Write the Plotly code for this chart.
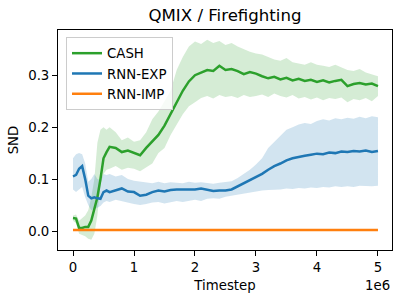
import plotly.graph_objects as go

# timesteps in units of 1e6
timesteps = [0, 0.05, 0.1, 0.15, 0.2, 0.25, 0.3, 0.35, 0.4, 0.45, 0.5, 0.55, 0.6,
             0.7, 0.8, 0.9, 1.0, 1.1, 1.2, 1.3, 1.4, 1.5, 1.6, 1.7, 1.8, 1.9, 2.0,
             2.1, 2.2, 2.3, 2.4, 2.5, 2.6, 2.7, 2.8, 2.9, 3.0, 3.1, 3.2, 3.3, 3.4,
             3.5, 3.6, 3.7, 3.8, 3.9, 4.0, 4.1, 4.2, 4.3, 4.4, 4.5, 4.6, 4.7, 4.8,
             4.9, 5.0]

cash_mean = [0.025, 0.024, 0.006, 0.006, 0.008, 0.008, 0.02, 0.04, 0.065, 0.1, 0.14, 0.152, 0.162,
             0.16, 0.152, 0.155, 0.15, 0.146, 0.16, 0.172, 0.185, 0.203, 0.225, 0.25, 0.27, 0.288, 0.3,
             0.305, 0.31, 0.308, 0.318, 0.31, 0.312, 0.308, 0.302, 0.306, 0.303, 0.298, 0.294, 0.297, 0.292,
             0.295, 0.29, 0.293, 0.289, 0.291, 0.287, 0.29, 0.286, 0.289, 0.291, 0.279, 0.283, 0.285, 0.282,
             0.284, 0.279]
cash_upper = [0.03, 0.032, 0.02, 0.025, 0.03, 0.04, 0.065, 0.1, 0.17, 0.195, 0.2, 0.195, 0.2,
              0.19, 0.175, 0.18, 0.172, 0.175, 0.19, 0.215, 0.23, 0.25, 0.27, 0.31, 0.335, 0.355, 0.365,
              0.36, 0.368, 0.362, 0.366, 0.358, 0.362, 0.355, 0.35, 0.345, 0.342, 0.34, 0.335, 0.33, 0.328,
              0.333, 0.325, 0.322, 0.32, 0.325, 0.32, 0.318, 0.316, 0.32, 0.315, 0.31, 0.308, 0.312, 0.305,
              0.302, 0.298]
cash_lower = [0.02, 0.015, -0.005, -0.008, -0.01, -0.015, -0.017, -0.005, 0.03, 0.09, 0.11, 0.118, 0.12,
              0.125, 0.118, 0.122, 0.12, 0.115, 0.122, 0.13, 0.15, 0.16, 0.185, 0.205, 0.225, 0.24, 0.248,
              0.256, 0.26, 0.255, 0.262, 0.258, 0.26, 0.256, 0.262, 0.258, 0.26, 0.263, 0.258, 0.265, 0.26,
              0.257, 0.262, 0.255, 0.258, 0.253, 0.257, 0.252, 0.256, 0.254, 0.257, 0.248, 0.254, 0.252, 0.256,
              0.25, 0.26]

exp_mean = [0.105, 0.108, 0.12, 0.125, 0.1, 0.068, 0.063, 0.065, 0.063, 0.062, 0.075, 0.078, 0.075,
            0.078, 0.082, 0.076, 0.075, 0.068, 0.07, 0.075, 0.078, 0.076, 0.079, 0.08, 0.08, 0.081, 0.08,
            0.082, 0.079, 0.077, 0.078, 0.078, 0.08, 0.086, 0.092, 0.098, 0.104, 0.11, 0.118, 0.125, 0.13,
            0.136, 0.14, 0.143, 0.145, 0.147, 0.149, 0.148, 0.151, 0.15, 0.153, 0.152, 0.154, 0.153, 0.155,
            0.152, 0.154]
exp_upper = [0.14, 0.148, 0.15, 0.148, 0.13, 0.095, 0.1, 0.11, 0.1, 0.098, 0.11, 0.108, 0.11,
             0.105, 0.108, 0.1, 0.097, 0.095, 0.094, 0.092, 0.095, 0.092, 0.094, 0.093, 0.092, 0.095, 0.093,
             0.094, 0.092, 0.091, 0.093, 0.094, 0.096, 0.102, 0.11, 0.118, 0.128, 0.14, 0.16, 0.172, 0.185,
             0.195, 0.2, 0.205, 0.208, 0.206, 0.212, 0.215, 0.213, 0.217, 0.215, 0.218, 0.216, 0.22, 0.217,
             0.221, 0.219]
exp_lower = [0.08, 0.075, 0.08, 0.085, 0.065, 0.05, 0.04, 0.042, 0.045, 0.048, 0.055, 0.058, 0.056,
             0.06, 0.058, 0.055, 0.052, 0.05, 0.052, 0.055, 0.056, 0.053, 0.055, 0.058, 0.056, 0.058, 0.06,
             0.058, 0.062, 0.063, 0.062, 0.066, 0.067, 0.07, 0.072, 0.074, 0.076, 0.078, 0.079, 0.08, 0.08,
             0.082, 0.081, 0.083, 0.082, 0.084, 0.083, 0.085, 0.084, 0.086, 0.085, 0.086, 0.085, 0.087, 0.086,
             0.086, 0.087]

imp_value = 0.002
imp_mean = [imp_value for _ in timesteps]

series = [
    ("CASH", cash_mean, cash_upper, cash_lower, "#2ca02c", "rgba(44,160,44,0.2)"),
    ("RNN-EXP", exp_mean, exp_upper, exp_lower, "#1f77b4", "rgba(31,119,180,0.2)"),
    ("RNN-IMP", imp_mean, imp_mean, imp_mean, "#ff7f0e", "rgba(255,127,14,0.2)"),
]

fig = go.Figure()
for name, m, up, lo, col, fcol in series:
    fig.add_trace(go.Scatter(
        x=list(timesteps) + list(timesteps[::-1]),
        y=list(up) + list(lo[::-1]),
        fill="toself", fillcolor=fcol, line=dict(width=0),
        mode="lines", hoverinfo="skip", showlegend=False))
for name, m, up, lo, col, fcol in series:
    fig.add_trace(go.Scatter(x=timesteps, y=m, mode="lines", name=name,
                             line=dict(color=col, width=2.5)))

fig.update_layout(
    width=400, height=300,
    margin=dict(l=58, r=8, t=30, b=50, autoexpand=False),
    plot_bgcolor="white", paper_bgcolor="white",
    font=dict(family="DejaVu Sans", size=13.3, color="black"),
    title=dict(text="QMIX / Firefighting", x=0.5, xref="paper", y=0.95,
               yref="container", xanchor="center", yanchor="middle",
               font=dict(size=16.6, family="DejaVu Sans", color="black")),
    legend=dict(x=0.024, y=0.968, xanchor="left", yanchor="top",
                bgcolor="rgba(255,255,255,0.8)", bordercolor="#cccccc",
                borderwidth=1, font=dict(size=13.3, family="DejaVu Sans")),
    showlegend=True,
)
fig.update_xaxes(range=[-0.246, 5.23], tickvals=[0, 1, 2, 3, 4, 5], ticktext=["0", "1", "2", "3", "4", "5"],
                 showline=True, mirror=True, linecolor="black", linewidth=1, automargin=False,
                 ticks="outside", ticklen=5, tickcolor="black", showgrid=False, zeroline=False,
                 title=dict(text="Timestep", standoff=6, font=dict(size=13.3)))
fig.update_yaxes(range=[-0.0365, 0.387], tickvals=[0, 0.1, 0.2, 0.3], tickformat=".1f",
                 showline=True, mirror=True, linecolor="black", linewidth=1, automargin=False,
                 ticks="outside", ticklen=5, tickcolor="black", showgrid=False, zeroline=False,
                 title=dict(text="SND", standoff=6, font=dict(size=13.3)))
fig.add_annotation(text="1e6", xref="paper", yref="paper", x=1.0, y=-0.16,
                   xanchor="right", yanchor="middle", showarrow=False,
                   font=dict(size=13.3, family="DejaVu Sans", color="black"))
fig.write_html("out.html", config={"displayModeBar": False},
               post_script="document.body.style.margin='0';")
